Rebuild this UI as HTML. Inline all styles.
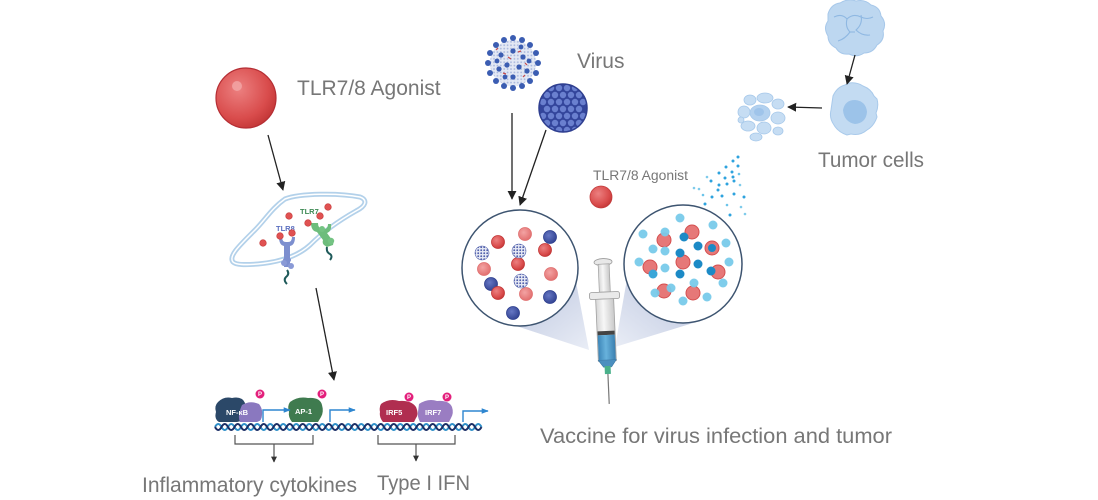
<!DOCTYPE html>
<html><head><meta charset="utf-8"><style>
html,body{margin:0;padding:0;background:#fff;}
svg{display:block;}
text{font-family:"Liberation Sans",sans-serif;}
</style></head><body>
<svg width="1098" height="500" viewBox="0 0 1098 500" xmlns="http://www.w3.org/2000/svg">
<defs>
<radialGradient id="rb" cx="0.38" cy="0.35" r="0.7">
<stop offset="0" stop-color="#ec8080"/><stop offset="0.7" stop-color="#d94c4c"/><stop offset="1" stop-color="#c23636"/>
</radialGradient>
<radialGradient id="rl" cx="0.4" cy="0.38" r="0.7">
<stop offset="0" stop-color="#f3a3a3"/><stop offset="1" stop-color="#e06a6a"/>
</radialGradient>
<radialGradient id="nv" cx="0.4" cy="0.38" r="0.7">
<stop offset="0" stop-color="#6677c4"/><stop offset="1" stop-color="#2e3f8e"/>
</radialGradient>
<pattern id="spk" width="3" height="3" patternUnits="userSpaceOnUse"><circle cx="1.2" cy="1.2" r="0.9" fill="#4858a8"/></pattern>
<pattern id="spk2" width="3.4" height="3.4" patternUnits="userSpaceOnUse"><circle cx="1" cy="1" r="0.9" fill="#3a5cb0"/></pattern>
<linearGradient id="coneL" x1="0" y1="0" x2="1" y2="1">
<stop offset="0" stop-color="#b9c3dd"/><stop offset="1" stop-color="#e9edf6"/>
</linearGradient>
<linearGradient id="coneR" x1="1" y1="0" x2="0" y2="1">
<stop offset="0" stop-color="#b9c3dd"/><stop offset="1" stop-color="#e9edf6"/>
</linearGradient>
<linearGradient id="barrel" x1="0" y1="0" x2="1" y2="0">
<stop offset="0" stop-color="#d6d6d6"/><stop offset="0.4" stop-color="#f7f7f7"/><stop offset="1" stop-color="#c8c8c8"/>
</linearGradient>
<linearGradient id="liq" x1="0" y1="0" x2="1" y2="0">
<stop offset="0" stop-color="#3d86b8"/><stop offset="0.45" stop-color="#68b2dc"/><stop offset="1" stop-color="#3a7fb0"/>
</linearGradient>
<clipPath id="vclip"><circle cx="563" cy="108" r="24"/></clipPath>
<marker id="ah" viewBox="0 0 10 10" refX="9" refY="5" markerWidth="7" markerHeight="7" orient="auto-start-reverse">
<path d="M0,0 L10,5 L0,10 z" fill="#222"/></marker>
<marker id="ahs" viewBox="0 0 10 10" refX="9" refY="5" markerWidth="5" markerHeight="5" orient="auto">
<path d="M0,0 L10,5 L0,10 z" fill="#333"/></marker>
<marker id="ahb" viewBox="0 0 10 10" refX="9" refY="5" markerWidth="5" markerHeight="5" orient="auto">
<path d="M0,1 L10,5 L0,9 z" fill="#2e86d0"/></marker>
</defs>

<!-- ===== LEFT: TLR7/8 agonist ===== -->
<circle cx="246" cy="98" r="30" fill="url(#rb)" stroke="#b52e34" stroke-width="1.2"/>
<circle cx="237" cy="86" r="5" fill="#f2a8a8" opacity="0.8"/>
<text x="297" y="95" font-size="21" fill="#777">TLR7/8 Agonist</text>
<line x1="268" y1="135" x2="283" y2="190" stroke="#222" stroke-width="1.3" marker-end="url(#ah)"/>

<!-- cell -->
<path d="M233,262 C228,256 240,245 255,230 C265,220 272,208 285,199 C300,193 340,193 360,197 C368,200 366,206 356,211 C340,220 325,230 310,245 C298,256 280,262 258,264 C245,265 236,265 233,262 Z" fill="#fff" stroke="#b3d1ea" stroke-width="5"/>
<path d="M233,262 C228,256 240,245 255,230 C265,220 272,208 285,199 C300,193 340,193 360,197 C368,200 366,206 356,211 C340,220 325,230 310,245 C298,256 280,262 258,264 C245,265 236,265 233,262 Z" fill="none" stroke="#fff" stroke-width="1.5"/>
<!-- TLR8 -->
<path d="M279,237 q0,8 5,9 l0,12 q-2,2 0,4 l0,5 l6,0 l0,-5 q2,-2 0,-4 l0,-12 q5,-1 5,-9 l-3,0 q0,5 -4,5 l-2,0 q-4,0 -4,-5 z" fill="#7d8fcf"/>
<circle cx="284" cy="263" r="3" fill="#8a9ad6"/><circle cx="291" cy="266" r="3" fill="#8a9ad6"/>
<path d="M287,270 q3,4 -1,7 q-3,3 1,7" fill="none" stroke="#1f5a5a" stroke-width="2"/>
<text x="276" y="231" font-size="7.5" fill="#5b6fc0" font-weight="bold">TLR8</text>
<!-- TLR7 -->
<path d="M311,223 q0,8 6,9 l6,8 q-1,3 1,5 l3,2 l6,-2 q1,-3 -1,-5 l-5,-7 q5,-2 4,-9 l-3,0 q0,5 -4,5 l-2,0 q-4,-1 -4,-6 z" fill="#6dbd7c"/>
<circle cx="331" cy="241" r="3.2" fill="#74c383"/><circle cx="322" cy="229" r="3" fill="#74c383"/>
<path d="M327,247 q-1,5 3,7 q3,2 0,6" fill="none" stroke="#1f5a5a" stroke-width="2"/>
<text x="300" y="214" font-size="7.5" fill="#3f8a55" font-weight="bold">TLR7</text>
<!-- red dots in cell -->
<g fill="#e05252" stroke="#c53a3a" stroke-width="0.6">
<circle cx="289" cy="216" r="3.3"/><circle cx="328" cy="207" r="3.3"/><circle cx="320" cy="216" r="3.3"/>
<circle cx="308" cy="223" r="3.3"/><circle cx="280" cy="236" r="3.3"/><circle cx="292" cy="233" r="3.3"/>
<circle cx="263" cy="243" r="3.3"/>
</g>
<line x1="316" y1="288" x2="334" y2="380" stroke="#222" stroke-width="1.3" marker-end="url(#ah)"/>

<!-- DNA -->
<path d="M215,427 q3.25,-6 6.5,0 t6.5,0 t6.5,0 t6.5,0 t6.5,0 t6.5,0 t6.5,0 t6.5,0 t6.5,0 t6.5,0 t6.5,0 t6.5,0 t6.5,0 t6.5,0 t6.5,0 t6.5,0 t6.5,0 t6.5,0 t6.5,0 t6.5,0 t6.5,0 t6.5,0 t6.5,0 t6.5,0 t6.5,0 t6.5,0 t6.5,0 t6.5,0 t6.5,0 t6.5,0 t6.5,0 t6.5,0 t6.5,0 t6.5,0 t6.5,0 t6.5,0 t6.5,0 t6.5,0 t6.5,0 t6.5,0 t6.5,0" fill="none" stroke="#2f8fc8" stroke-width="2"/>
<path d="M215,427 q3.25,6 6.5,0 t6.5,0 t6.5,0 t6.5,0 t6.5,0 t6.5,0 t6.5,0 t6.5,0 t6.5,0 t6.5,0 t6.5,0 t6.5,0 t6.5,0 t6.5,0 t6.5,0 t6.5,0 t6.5,0 t6.5,0 t6.5,0 t6.5,0 t6.5,0 t6.5,0 t6.5,0 t6.5,0 t6.5,0 t6.5,0 t6.5,0 t6.5,0 t6.5,0 t6.5,0 t6.5,0 t6.5,0 t6.5,0 t6.5,0 t6.5,0 t6.5,0 t6.5,0 t6.5,0 t6.5,0 t6.5,0 t6.5,0" fill="none" stroke="#1c2f66" stroke-width="2"/>

<!-- proteins -->
<path d="M218,402 q6,-6 14,-4 q10,-2 13,5 q3,6 0,12 q-1,6 -8,7 l-18,0 q-5,-3 -3,-10 q-2,-6 2,-10 z" fill="#2b4868"/>
<path d="M242,405 q8,-5 17,-1 q4,5 3,11 q0,6 -5,7 l-17,0 q-3,-6 2,-17 z" fill="#8a78bf"/>
<text x="226" y="415" font-size="7.5" fill="#fff" font-weight="bold">NF-κB</text>
<path d="M290,402 q8,-6 18,-4 q12,-1 14,7 q2,7 -1,12 l-3,5 l-26,0 q-4,-5 -3,-10 q-2,-6 1,-10 z" fill="#3f7b4f"/>
<text x="295" y="414" font-size="7.5" fill="#fff" font-weight="bold">AP-1</text>
<path d="M381,404 q8,-6 18,-3 q12,-1 17,6 q3,7 0,11 l-2,4 l-31,0 q-4,-5 -3,-10 q-1,-5 1,-8 z" fill="#b02e50"/>
<path d="M419,404 q9,-6 18,-3 q12,-1 15,6 q2,6 -1,11 l-2,4 l-29,0 q-3,-6 -2,-10 z" fill="#9a7dc2"/>
<text x="386" y="415" font-size="7.5" fill="#fff" font-weight="bold">IRF5</text>
<text x="425" y="415" font-size="7.5" fill="#fff" font-weight="bold">IRF7</text>
<g fill="#e3207c"><circle cx="260" cy="394" r="4.5"/><circle cx="322" cy="394" r="4.5"/><circle cx="409" cy="397" r="4.5"/><circle cx="447" cy="397" r="4.5"/></g>
<g fill="#fff" font-size="6" font-weight="bold"><text x="258" y="396">P</text><text x="320" y="396">P</text><text x="407" y="399">P</text><text x="445" y="399">P</text></g>
<!-- transcription arrows -->
<g fill="none" stroke="#2e86d0" stroke-width="1.4">
<path d="M263,422 L263,410 L290,410" marker-end="url(#ahb)"/>
<path d="M330,422 L330,410 L355,410" marker-end="url(#ahb)"/>
<path d="M463,422 L463,411 L488,411" marker-end="url(#ahb)"/>
</g>
<!-- brackets -->
<g fill="none" stroke="#555" stroke-width="1.2">
<path d="M235,435 L235,444 L313,444 L313,435"/>
<path d="M378,435 L378,444 L455,444 L455,435"/>
<line x1="274" y1="444" x2="274" y2="462" marker-end="url(#ahs)"/>
<line x1="416" y1="444" x2="416" y2="461" marker-end="url(#ahs)"/>
</g>
<text x="142" y="492" font-size="21" fill="#777" textLength="215" lengthAdjust="spacingAndGlyphs">Inflammatory cytokines</text>
<text x="377" y="490" font-size="21" fill="#777" textLength="93" lengthAdjust="spacingAndGlyphs">Type I IFN</text>

<!-- ===== MIDDLE: viruses ===== -->
<g>
<circle cx="513" cy="63" r="23" fill="#e3e8f4"/>
<circle cx="513" cy="63" r="23" fill="url(#spk2)" opacity="0.35"/>
<g fill="#3b5db2">
<circle cx="513" cy="38" r="3"/><circle cx="522" cy="40" r="3"/><circle cx="530" cy="45" r="3"/><circle cx="536" cy="53" r="3"/>
<circle cx="538" cy="63" r="3"/><circle cx="536" cy="73" r="3"/><circle cx="530" cy="81" r="3"/><circle cx="522" cy="86" r="3"/>
<circle cx="513" cy="88" r="3"/><circle cx="504" cy="86" r="3"/><circle cx="496" cy="81" r="3"/><circle cx="490" cy="73" r="3"/>
<circle cx="488" cy="63" r="3"/><circle cx="490" cy="53" r="3"/><circle cx="496" cy="45" r="3"/><circle cx="504" cy="40" r="3"/>
<circle cx="501" cy="55" r="2.6"/><circle cx="513" cy="51" r="2.6"/><circle cx="523" cy="57" r="2.6"/><circle cx="507" cy="65" r="2.6"/>
<circle cx="519" cy="67" r="2.6"/><circle cx="499" cy="69" r="2.6"/><circle cx="527" cy="71" r="2.6"/><circle cx="513" cy="77" r="2.6"/>
<circle cx="505" cy="77" r="2.4"/><circle cx="521" cy="47" r="2.4"/><circle cx="497" cy="61" r="2.4"/><circle cx="529" cy="61" r="2.4"/>
</g>
<g stroke="#c84848" stroke-width="1.2"><line x1="508" y1="57" x2="511" y2="59"/><line x1="518" y1="52" x2="521" y2="51"/><line x1="503" y1="73" x2="506" y2="74"/><line x1="523" y1="77" x2="525" y2="75"/><line x1="525" y1="63" x2="527" y2="65"/><line x1="496" y1="50" x2="498" y2="48"/></g>
</g>
<g>
<circle cx="563" cy="108" r="24" fill="#33459b"/>
<g clip-path="url(#vclip)" fill="#6a80cf">
<circle cx="551" cy="88" r="3.2"/><circle cx="559" cy="88" r="3.2"/><circle cx="567" cy="88" r="3.2"/><circle cx="575" cy="88" r="3.2"/>
<circle cx="547" cy="95" r="3.2"/><circle cx="555" cy="95" r="3.2"/><circle cx="563" cy="95" r="3.2"/><circle cx="571" cy="95" r="3.2"/><circle cx="579" cy="95" r="3.2"/>
<circle cx="543" cy="102" r="3.2"/><circle cx="551" cy="102" r="3.2"/><circle cx="559" cy="102" r="3.2"/><circle cx="567" cy="102" r="3.2"/><circle cx="575" cy="102" r="3.2"/><circle cx="583" cy="102" r="3.2"/>
<circle cx="547" cy="109" r="3.2"/><circle cx="555" cy="109" r="3.2"/><circle cx="563" cy="109" r="3.2"/><circle cx="571" cy="109" r="3.2"/><circle cx="579" cy="109" r="3.2"/>
<circle cx="543" cy="116" r="3.2"/><circle cx="551" cy="116" r="3.2"/><circle cx="559" cy="116" r="3.2"/><circle cx="567" cy="116" r="3.2"/><circle cx="575" cy="116" r="3.2"/><circle cx="583" cy="116" r="3.2"/>
<circle cx="547" cy="123" r="3.2"/><circle cx="555" cy="123" r="3.2"/><circle cx="563" cy="123" r="3.2"/><circle cx="571" cy="123" r="3.2"/><circle cx="579" cy="123" r="3.2"/>
<circle cx="551" cy="130" r="3.2"/><circle cx="559" cy="130" r="3.2"/><circle cx="567" cy="130" r="3.2"/><circle cx="575" cy="130" r="3.2"/>
</g>
<circle cx="563" cy="108" r="24" fill="none" stroke="#2f3f90" stroke-width="1.5"/>
</g>
<text x="577" y="68" font-size="21" fill="#777">Virus</text>
<line x1="512" y1="113" x2="512" y2="199" stroke="#222" stroke-width="1.3" marker-end="url(#ah)"/>
<line x1="546" y1="130" x2="520" y2="205" stroke="#222" stroke-width="1.3" marker-end="url(#ah)"/>

<text x="593" y="180" font-size="13.5" fill="#777" textLength="95" lengthAdjust="spacingAndGlyphs">TLR7/8 Agonist</text>
<circle cx="601" cy="197" r="11" fill="url(#rb)" stroke="#c23a3a" stroke-width="0.8"/>

<!-- spray dots -->
<g fill="#2ea3de">
<circle cx="738" cy="157" r="1.5"/><circle cx="733" cy="161" r="1.5"/><circle cx="738" cy="166" r="1.5"/><circle cx="726" cy="167" r="1.5"/>
<circle cx="732" cy="172" r="1.5"/><circle cx="739" cy="174" r="1.3" fill="#6cc4ea"/><circle cx="719" cy="173" r="1.5"/><circle cx="725" cy="178" r="1.5"/>
<circle cx="733" cy="177" r="1.5"/><circle cx="740" cy="185" r="1.3" fill="#7fcbeb"/><circle cx="707" cy="177" r="1.3" fill="#7fcbeb"/><circle cx="711" cy="181" r="1.5"/>
<circle cx="719" cy="185" r="1.5"/><circle cx="727" cy="184" r="1.5"/><circle cx="734" cy="181" r="1.5"/><circle cx="694" cy="188" r="1.3" fill="#7fcbeb"/>
<circle cx="699" cy="189" r="1.3" fill="#7fcbeb"/><circle cx="703" cy="195" r="1.3" fill="#6cc4ea"/><circle cx="712" cy="197" r="1.5"/><circle cx="722" cy="196" r="1.5"/>
<circle cx="734" cy="194" r="1.5"/><circle cx="744" cy="197" r="1.5"/><circle cx="705" cy="204" r="1.5"/><circle cx="727" cy="205" r="1.3" fill="#6cc4ea"/>
<circle cx="741" cy="207" r="1.3" fill="#7fcbeb"/><circle cx="730" cy="215" r="1.5"/><circle cx="745" cy="214" r="1.3" fill="#7fcbeb"/><circle cx="718" cy="190" r="1.5"/>
</g>

<!-- cones -->
<polygon points="498,320 576,282 589,350" fill="url(#coneL)"/>
<polygon points="627,279 703,320 615,347" fill="url(#coneR)"/>

<!-- left circle -->
<circle cx="520" cy="268" r="58" fill="#fff" stroke="#3d5470" stroke-width="1.5"/>
<g stroke-width="0.8">
<circle cx="498" cy="242" r="6.5" fill="url(#rb)" stroke="#c23636"/>
<circle cx="525" cy="234" r="6.5" fill="url(#rl)" stroke="#e07070"/>
<circle cx="550" cy="237" r="6.5" fill="url(#nv)" stroke="#2e3f8e"/>
<circle cx="545" cy="250" r="6.5" fill="url(#rb)" stroke="#c23636"/>
<circle cx="518" cy="264" r="6.5" fill="url(#rb)" stroke="#c23636"/>
<circle cx="484" cy="269" r="6.5" fill="url(#rl)" stroke="#e07070"/>
<circle cx="551" cy="274" r="6.5" fill="url(#rl)" stroke="#e07070"/>
<circle cx="491" cy="284" r="6.5" fill="url(#nv)" stroke="#2e3f8e"/>
<circle cx="498" cy="293" r="6.5" fill="url(#rb)" stroke="#c23636"/>
<circle cx="526" cy="294" r="6.5" fill="url(#rl)" stroke="#e07070"/>
<circle cx="550" cy="297" r="6.5" fill="url(#nv)" stroke="#2e3f8e"/>
<circle cx="513" cy="313" r="6.5" fill="url(#nv)" stroke="#2e3f8e"/>
</g>
<g>
<circle cx="482" cy="253" r="7" fill="#e4e7f3"/><circle cx="482" cy="253" r="7" fill="url(#spk)" stroke="#5564ad" stroke-width="0.6"/>
<circle cx="519" cy="251" r="7" fill="#e4e7f3"/><circle cx="519" cy="251" r="7" fill="url(#spk)" stroke="#5564ad" stroke-width="0.6"/>
<circle cx="521" cy="281" r="7" fill="#e4e7f3"/><circle cx="521" cy="281" r="7" fill="url(#spk)" stroke="#5564ad" stroke-width="0.6"/>
</g>

<!-- right circle -->
<circle cx="683" cy="264" r="59" fill="#fff" stroke="#3d5470" stroke-width="1.5"/>
<g fill="#e46a6a" stroke="#d03c3c" stroke-width="1" opacity="0.9">
<circle cx="692" cy="232" r="7"/><circle cx="664" cy="240" r="7"/><circle cx="712" cy="248" r="7"/>
<circle cx="650" cy="267" r="7"/><circle cx="683" cy="262" r="7"/><circle cx="718" cy="272" r="7"/>
<circle cx="664" cy="291" r="7"/><circle cx="693" cy="293" r="7"/>
</g>
<g fill="#79cbea" opacity="0.95">
<circle cx="680" cy="218" r="4.5"/><circle cx="713" cy="225" r="4.5"/><circle cx="643" cy="234" r="4.5"/><circle cx="665" cy="232" r="4.5"/>
<circle cx="726" cy="243" r="4.5"/><circle cx="653" cy="249" r="4.5"/><circle cx="665" cy="251" r="4.5"/><circle cx="639" cy="262" r="4.5"/>
<circle cx="729" cy="262" r="4.5"/><circle cx="665" cy="268" r="4.5"/><circle cx="723" cy="283" r="4.5"/><circle cx="694" cy="283" r="4.5"/>
<circle cx="671" cy="288" r="4.5"/><circle cx="655" cy="293" r="4.5"/><circle cx="707" cy="297" r="4.5"/><circle cx="683" cy="301" r="4.5"/>
</g>
<g fill="#1c8ac6">
<circle cx="684" cy="237" r="4.5"/><circle cx="698" cy="246" r="4.5"/><circle cx="712" cy="248" r="4"/><circle cx="680" cy="253" r="4.5"/>
<circle cx="698" cy="264" r="4.5"/><circle cx="680" cy="274" r="4.5"/><circle cx="711" cy="271" r="4.5"/><circle cx="653" cy="274" r="4.5" fill="#3aa6d8"/>
</g>

<!-- syringe -->
<g transform="translate(3,0) rotate(-2.5 603 330)">
<ellipse cx="603" cy="262" rx="9" ry="3.5" fill="#e8e8e8" stroke="#9a9a9a" stroke-width="0.8"/>
<rect x="598" y="264" width="11" height="28" fill="url(#barrel)" stroke="#a0a0a0" stroke-width="0.7"/>
<rect x="588" y="292" width="30" height="7" rx="2" fill="#eaeaea" stroke="#9a9a9a" stroke-width="0.8"/>
<rect x="594" y="299" width="18" height="62" fill="url(#barrel)" stroke="#a0a0a0" stroke-width="0.8"/>
<rect x="594.5" y="331" width="17" height="4" fill="#444"/>
<rect x="594.5" y="335" width="17" height="25" fill="url(#liq)"/>
<path d="M594,360 L612,360 L607,367 L599,367 Z" fill="#4b8fbf" stroke="#3a78a6" stroke-width="0.6"/>
<rect x="600" y="366" width="6" height="8" fill="#49b08a"/>
<line x1="603" y1="374" x2="603" y2="404" stroke="#777" stroke-width="1.2"/>
</g>
<text x="540" y="443" font-size="21" fill="#777" textLength="352" lengthAdjust="spacingAndGlyphs">Vaccine for virus infection and tumor</text>

<!-- ===== RIGHT: tumor cells ===== -->
<path d="M828,14 q3,-10 12,-11 q8,-5 16,-2 q9,-2 15,4 q9,2 10,11 q6,7 2,15 q2,9 -6,14 q-4,8 -13,8 q-7,5 -15,1 q-9,1 -13,-6 q-8,-4 -8,-12 q-5,-8 0,-15 z" fill="#bdd7f0" stroke="#a7c8ea" stroke-width="1"/>
<g fill="none" stroke="#8fb8e2" stroke-width="1.1">
<path d="M834,17 q8,-4 13,2 q6,-6 14,-2 q6,3 12,0"/>
<path d="M847,19 q-2,8 3,13 q-5,7 -12,9"/>
<path d="M861,15 q2,9 -5,15 q6,6 14,5"/>
<path d="M850,32 l5,0"/>
</g>
<path d="M833,96 q4,-9 12,-11 l4,-2 q8,-1 14,3 q8,3 11,10 l3,3 q2,7 -1,14 l1,4 q-3,9 -10,13 q-7,6 -16,4 l-4,1 q-9,-3 -13,-10 q-5,-7 -3,-15 z" fill="#c3dbf2" stroke="#a9caeb" stroke-width="1"/>
<path d="M843,110 q2,-10 12,-10 q11,1 12,12 q-1,11 -12,12 q-11,-2 -12,-14 z" fill="#9cc3e9"/>
<g fill="#c6ddf3" stroke="#a6c8ea" stroke-width="0.8">
<ellipse cx="750" cy="100" rx="6" ry="5"/><ellipse cx="765" cy="98" rx="8" ry="5"/><ellipse cx="778" cy="104" rx="6" ry="5"/>
<ellipse cx="744" cy="112" rx="6" ry="6"/><ellipse cx="760" cy="113" rx="10" ry="8" fill="#b3d1ef"/><ellipse cx="778" cy="118" rx="7" ry="6"/>
<ellipse cx="748" cy="126" rx="7" ry="5"/><ellipse cx="764" cy="128" rx="7" ry="6"/><ellipse cx="778" cy="131" rx="5" ry="4"/>
<ellipse cx="756" cy="137" rx="6" ry="4"/><ellipse cx="741" cy="120" rx="3" ry="3"/>
</g>
<ellipse cx="759" cy="112" rx="5" ry="4" fill="#9fc4ea"/>
<line x1="855" y1="55" x2="847" y2="84" stroke="#222" stroke-width="1.3" marker-end="url(#ah)"/>
<line x1="822" y1="108" x2="788" y2="107" stroke="#222" stroke-width="1.3" marker-end="url(#ah)"/>
<text x="818" y="167" font-size="21" fill="#777" textLength="106" lengthAdjust="spacingAndGlyphs">Tumor cells</text>
</svg>
</body></html>
